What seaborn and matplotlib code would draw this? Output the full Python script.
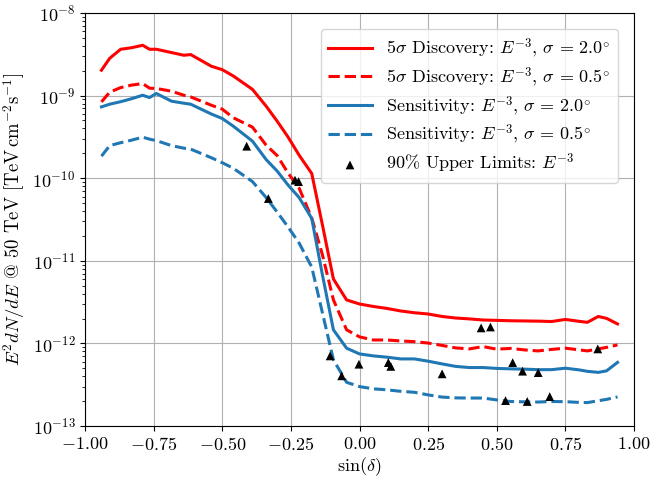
import numpy as np
import pandas as pd
import matplotlib
matplotlib.use("Agg")
import matplotlib.pyplot as plt
import seaborn as sns

# shared sin(declination) grid
sin_dec = [-0.94, -0.91, -0.87, -0.83, -0.79, -0.765, -0.74, -0.685, -0.64, -0.615,
           -0.54, -0.50, -0.46, -0.39, -0.34, -0.30, -0.26, -0.22, -0.174, -0.135,
           -0.095, -0.047, 0.0, 0.05, 0.10, 0.15, 0.20, 0.25, 0.30, 0.35,
           0.40, 0.45, 0.50, 0.55, 0.60, 0.65, 0.70, 0.75, 0.80, 0.83,
           0.87, 0.90, 0.94]

disc_2deg = [2.03e-9, 2.83e-9, 3.64e-9, 3.80e-9, 4.07e-9, 3.64e-9, 3.64e-9, 3.32e-9, 3.08e-9, 3.14e-9,
             2.27e-9, 2.06e-9, 1.73e-9, 1.19e-9, 7.44e-10, 4.90e-10, 3.14e-10, 1.90e-10, 1.14e-10, 2.71e-11,
             6.02e-12, 3.36e-12, 3.00e-12, 2.80e-12, 2.65e-12, 2.47e-12, 2.35e-12, 2.27e-12, 2.12e-12, 2.03e-12,
             1.98e-12, 1.92e-12, 1.90e-12, 1.88e-12, 1.87e-12, 1.86e-12, 1.84e-12, 1.95e-12, 1.85e-12, 1.80e-12,
             2.12e-12, 2.01e-12, 1.72e-12]

disc_05deg = [8.39e-10, 1.10e-9, 1.25e-9, 1.34e-9, 1.40e-9, 1.23e-9, 1.22e-9, 1.13e-9, 1.01e-9, 9.64e-10,
              7.65e-10, 6.85e-10, 5.40e-10, 4.15e-10, 2.51e-10, 1.88e-10, 1.15e-10, 7.59e-11, 3.29e-11, 1.18e-11,
              3.36e-12, 1.46e-12, 1.20e-12, 1.10e-12, 1.10e-12, 1.07e-12, 1.05e-12, 1.01e-12, 9.46e-13, 8.82e-13,
              8.58e-13, 9.15e-13, 8.51e-13, 8.70e-13, 8.35e-13, 8.11e-13, 8.46e-13, 8.75e-13, 8.35e-13, 8.11e-13,
              8.58e-13, 8.95e-13, 9.59e-13]

sens_2deg = [7.30e-10, 7.87e-10, 8.44e-10, 9.17e-10, 1.01e-9, 9.48e-10, 1.06e-9, 8.56e-10, 8.09e-10, 7.87e-10,
             5.99e-10, 5.28e-10, 4.27e-10, 2.81e-10, 1.68e-10, 1.22e-10, 8.25e-11, 5.83e-11, 3.26e-11, 6.73e-12,
             1.46e-12, 8.75e-13, 7.46e-13, 7.06e-13, 6.81e-13, 6.49e-13, 6.49e-13, 6.09e-13, 5.65e-13, 5.27e-13,
             5.10e-13, 5.10e-13, 4.98e-13, 4.92e-13, 4.88e-13, 4.81e-13, 4.81e-13, 5.01e-13, 4.78e-13, 4.59e-13,
             4.46e-13, 4.65e-13, 5.89e-13]

sens_05deg = [1.85e-10, 2.48e-10, 2.69e-10, 2.89e-10, 3.14e-10, 2.97e-10, 2.85e-10, 2.48e-10, 2.31e-10, 2.25e-10,
              1.77e-10, 1.54e-10, 1.32e-10, 9.10e-11, 5.83e-11, 3.89e-11, 2.56e-11, 1.64e-11, 8.41e-12, 2.34e-12,
              6.32e-13, 3.38e-13, 3.00e-13, 2.82e-13, 2.74e-13, 2.63e-13, 2.56e-13, 2.38e-13, 2.24e-13, 2.19e-13,
              2.18e-13, 2.18e-13, 2.07e-13, 1.98e-13, 1.96e-13, 1.95e-13, 1.98e-13, 1.97e-13, 1.93e-13, 1.92e-13,
              2.02e-13, 2.10e-13, 2.25e-13]

ul_sin_dec = [-0.411, -0.332, -0.235, -0.222, -0.107, -0.065, -0.002, 0.105, 0.114, 0.301,
              0.443, 0.477, 0.558, 0.594, 0.651, 0.532, 0.611, 0.693, 0.868]
ul_flux = [2.44e-10, 5.67e-11, 9.48e-11, 9.10e-11, 7.06e-13, 4.05e-13, 5.60e-13, 5.86e-13, 5.27e-13, 4.28e-13,
           1.54e-12, 1.58e-12, 5.86e-13, 4.61e-13, 4.43e-13, 2.03e-13, 1.98e-13, 2.27e-13, 8.58e-13]

labels = [r"$5\sigma$ Discovery: $E^{-3}$, $\sigma\,=\,2.0^{\circ}$",
          r"$5\sigma$ Discovery: $E^{-3}$, $\sigma\,=\,0.5^{\circ}$",
          r"Sensitivity: $E^{-3}$, $\sigma\,=\,2.0^{\circ}$",
          r"Sensitivity: $E^{-3}$, $\sigma\,=\,0.5^{\circ}$"]
ul_label = r"90% Upper Limits: $E^{-3}$"

plt.rcParams["font.family"] = ["cmr10", "DejaVu Serif"]
plt.rcParams["mathtext.fontset"] = "cm"
plt.rcParams["axes.formatter.use_mathtext"] = True
plt.rcParams["axes.unicode_minus"] = True
plt.rcParams["font.size"] = 13

fig = plt.figure(figsize=(6.51, 4.79), dpi=100)
ax = fig.add_axes([85 / 651, 1 - 426 / 479, (634 - 85) / 651, (426 - 13) / 479])

series = [(disc_2deg, "red", "-"), (disc_05deg, "red", "--"),
          (sens_2deg, "#1f77b4", "-"), (sens_05deg, "#1f77b4", "--")]
for (vals, col, ls), lab in zip(series, labels):
    df = pd.DataFrame({"x": sin_dec, "y": vals})
    sns.lineplot(data=df, x="x", y="y", color=col, linestyle=ls, linewidth=2.2,
                 label=lab, ax=ax, sort=False)

ul_df = pd.DataFrame({"x": ul_sin_dec, "y": ul_flux})
sns.scatterplot(data=ul_df, x="x", y="y", marker="^", color="black", s=40,
                edgecolor="none", label=ul_label, ax=ax, zorder=5)

ax.set_yscale("log")
ax.set_xlim(-1, 1)
ax.set_ylim(1e-13, 1e-8)
ax.set_xticks([-1.0, -0.75, -0.5, -0.25, 0.0, 0.25, 0.5, 0.75, 1.0])
ax.grid(True, which="major", color="#b0b0b0", linewidth=0.8)
ax.set_xlabel(r"$\sin(\delta)$", fontsize=13, labelpad=2)
ax.set_ylabel(r"$E^2dN/dE$ @ 50 TeV [TeV$\,$cm$^{-2}$s$^{-1}$]", fontsize=13.5, labelpad=4)
ax.tick_params(labelsize=13)
ax.legend(loc="upper right", fontsize=13, handlelength=2.4, borderaxespad=0.9,
          labelspacing=0.3)

fig.savefig("out.png", dpi=100)
